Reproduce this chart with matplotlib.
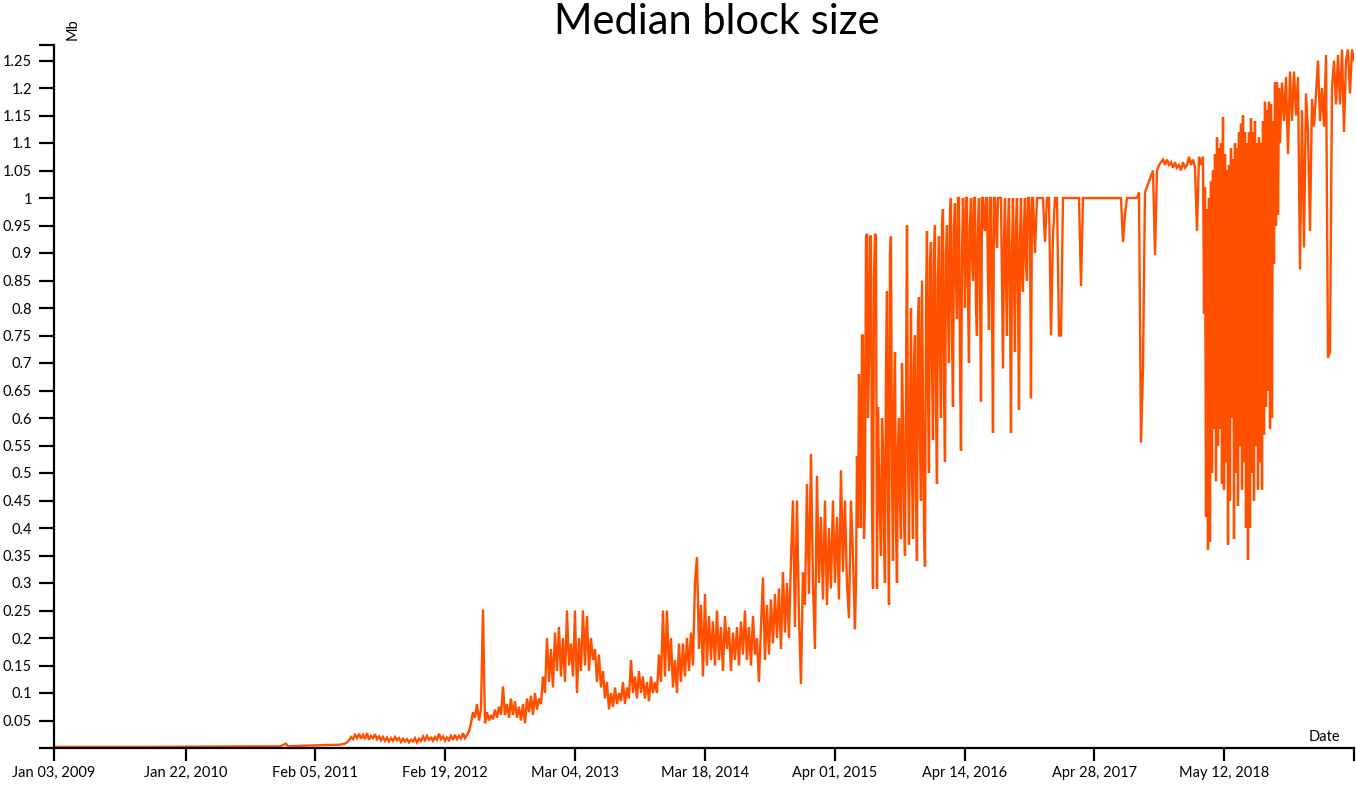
import numpy as np
import pandas as pd
import matplotlib
matplotlib.use("Agg")
import matplotlib.pyplot as plt

plt.rcParams['font.family'] = ['Lato', 'DejaVu Sans']

start = pd.Timestamp('2009-01-03')

# early period, nearly empty blocks (day offsets from start)
flat_days = [0, 134, 280, 572, 660, 677, 683, 718, 777, 835, 849]
flat_mb = [0.002, 0.002, 0.002, 0.003, 0.003, 0.008, 0.003, 0.004, 0.005, 0.006, 0.008]

# May 2011 - Jun 2015, sampled about every 5.8 days
b1_start, b1_step = 855.3, 5.838
b1_mb = [
    0.010, 0.014, 0.020, 0.016, 0.024, 0.018, 0.026, 0.017, 0.024, 0.016,
    0.027, 0.015, 0.022, 0.018, 0.025, 0.016, 0.021, 0.014, 0.020, 0.013,
    0.019, 0.012, 0.018, 0.013, 0.020, 0.014, 0.018, 0.011, 0.017, 0.012,
    0.016, 0.010, 0.015, 0.012, 0.018, 0.010, 0.017, 0.013, 0.021, 0.014,
    0.022, 0.015, 0.019, 0.013, 0.020, 0.015, 0.026, 0.016, 0.021, 0.013,
    0.019, 0.014, 0.022, 0.015, 0.024, 0.016, 0.022, 0.017, 0.027, 0.018,
    0.024, 0.030, 0.045, 0.065, 0.055, 0.080, 0.050, 0.070, 0.252, 0.045,
    0.065, 0.050, 0.060, 0.052, 0.070, 0.055, 0.075, 0.060, 0.112, 0.060,
    0.080, 0.055, 0.090, 0.060, 0.085, 0.055, 0.075, 0.050, 0.080, 0.045,
    0.090, 0.065, 0.095, 0.060, 0.100, 0.070, 0.090, 0.080, 0.130, 0.100,
    0.200, 0.120, 0.180, 0.110, 0.210, 0.140, 0.220, 0.130, 0.200, 0.120,
    0.250, 0.150, 0.190, 0.130, 0.250, 0.100, 0.200, 0.140, 0.250, 0.150,
    0.240, 0.140, 0.200, 0.160, 0.180, 0.120, 0.170, 0.110, 0.140, 0.090,
    0.120, 0.070, 0.100, 0.075, 0.110, 0.080, 0.100, 0.085, 0.120, 0.080,
    0.110, 0.090, 0.160, 0.100, 0.130, 0.090, 0.140, 0.100, 0.130, 0.090,
    0.120, 0.085, 0.130, 0.100, 0.120, 0.100, 0.170, 0.120, 0.250, 0.130,
    0.250, 0.140, 0.200, 0.110, 0.160, 0.100, 0.190, 0.120, 0.190, 0.130,
    0.200, 0.140, 0.210, 0.150, 0.300, 0.347, 0.180, 0.260, 0.130, 0.280,
    0.150, 0.240, 0.160, 0.230, 0.150, 0.250, 0.160, 0.220, 0.140, 0.240,
    0.180, 0.220, 0.140, 0.210, 0.160, 0.220, 0.150, 0.230, 0.170, 0.250,
    0.160, 0.220, 0.150, 0.240, 0.170, 0.200, 0.120, 0.220, 0.310, 0.160,
    0.260, 0.170, 0.270, 0.190, 0.280, 0.200, 0.290, 0.180, 0.320, 0.210,
    0.300, 0.200, 0.340, 0.450, 0.220, 0.450, 0.240, 0.116, 0.320, 0.260,
    0.480, 0.280, 0.535, 0.300, 0.180, 0.495, 0.300, 0.420, 0.270, 0.450,
    0.260, 0.400, 0.290, 0.450, 0.300, 0.420, 0.270, 0.505, 0.320, 0.450,
    0.300, 0.236, 0.450, 0.350, 0.216,
]

# Jun 2015 - Nov 2016, the noisy climb to 1 Mb, about every 2.9 days
b2_start, b2_step = 2341.2, 2.919
b2_mb = [
    0.30, 0.53, 0.40, 0.68, 0.55, 0.40, 0.75, 0.75, 0.38, 0.45,
    0.93, 0.935, 0.60, 0.70, 0.93, 0.93, 0.45, 0.29, 0.85, 0.935,
    0.93, 0.29, 0.62, 0.50, 0.42, 0.35, 0.60, 0.55, 0.38, 0.30,
    0.70, 0.83, 0.45, 0.26, 0.90, 0.93, 0.50, 0.34, 0.62, 0.72,
    0.40, 0.30, 0.55, 0.60, 0.45, 0.38, 0.70, 0.60, 0.42, 0.35,
    0.65, 0.95, 0.55, 0.37, 0.60, 0.80, 0.50, 0.38, 0.70, 0.75,
    0.45, 0.34, 0.78, 0.82, 0.55, 0.45, 0.85, 0.62, 0.40, 0.33,
    0.80, 0.94, 0.65, 0.50, 0.88, 0.92, 0.70, 0.56, 0.90, 0.95,
    0.62, 0.48, 0.85, 0.93, 0.72, 0.60, 0.95, 0.98, 0.65, 0.52,
    0.90, 0.95, 0.80, 0.70, 0.98, 1.00, 0.75, 0.62, 0.95, 0.99,
    0.85, 0.78, 1.00, 1.00, 0.70, 0.54, 0.90, 1.00, 0.92, 0.80,
    1.00, 1.00, 0.82, 0.70, 0.95, 1.00, 0.90, 0.85, 1.00, 1.00,
    0.80, 0.75, 0.95, 1.00, 0.85, 0.63, 1.00, 1.00, 0.95, 0.94,
    1.00, 1.00, 0.85, 0.76, 1.00, 1.00, 0.80, 0.573, 1.00, 1.00,
    0.95, 0.91, 1.00, 1.00, 1.00, 1.00, 0.85, 0.69, 0.92, 1.00,
    0.85, 0.75, 0.95, 1.00, 0.83, 0.573, 0.90, 1.00, 0.85, 0.72,
    0.95, 1.00, 0.84, 0.615, 0.92, 1.00, 0.86, 0.83, 0.95, 1.00,
    0.88, 0.85, 1.00, 1.00, 0.95, 0.636, 1.00,
]

# Nov 2016 - Mar 2018, plateau at 1 Mb then the step up
b3_start, b3_step = 2857.9, 5.838
b3_mb = [
    1.000, 0.900, 1.000, 1.000, 1.000, 1.000, 0.920, 1.000, 1.000, 0.750,
    0.930, 1.000, 1.000, 0.750, 0.750, 1.000, 1.000, 1.000, 1.000, 1.000,
    1.000, 1.000, 1.000, 1.000, 0.840, 1.000, 1.000, 1.000, 1.000, 1.000,
    1.000, 1.000, 1.000, 1.000, 1.000, 1.000, 1.000, 1.000, 1.000, 1.000,
    1.000, 1.000, 1.000, 1.000, 1.000, 0.920, 0.970, 1.000, 1.000, 1.000,
    1.000, 1.000, 1.000, 1.010, 0.555, 0.690, 1.010, 1.020, 1.030, 1.040,
    1.050, 0.896, 1.050, 1.060, 1.065, 1.070, 1.060, 1.070, 1.060, 1.065,
    1.055, 1.065, 1.055, 1.060, 1.050, 1.065, 1.055, 1.060, 1.075, 1.060,
    1.070, 1.055, 0.940, 1.075, 1.060, 1.075,
]

# Mar 2018 - Oct 2018, the most jagged stretch, about every 2.9 days
c_start, c_step = 3357.1, 2.919
c_mb = [
    0.79, 1.02, 0.42, 0.98, 0.36, 1.00, 0.375, 1.03, 0.50, 1.05,
    0.58, 1.08, 0.485, 1.11, 0.55, 1.09, 0.58, 1.10, 0.48, 1.147,
    0.47, 1.08, 0.52, 1.05, 0.37, 1.06, 0.45, 1.09, 0.60, 1.07,
    0.38, 1.10, 0.50, 1.09, 0.44, 1.12, 0.55, 1.135, 0.47, 1.15,
    0.52, 1.12, 0.40, 1.10, 0.342, 1.12, 0.40, 1.145, 0.50, 1.12,
    0.45, 1.14, 0.55, 1.10, 0.47, 1.11, 0.52, 1.10, 0.47, 1.14,
    0.57, 1.175, 0.62, 1.16, 0.65, 1.175, 0.58, 1.17, 0.60, 1.14,
    0.88, 1.21, 0.95, 1.21, 0.97, 1.20, 1.10,
]

# Oct 2018 - May 2019
d_start, d_step = 3584.8, 5.838
d_mb = [
    1.21, 1.14, 1.22, 1.08, 1.23, 1.14, 1.23, 1.15, 1.22, 0.87,
    1.16, 0.91, 1.19, 1.12, 0.94, 1.18, 1.13, 1.19, 1.25, 1.14,
    1.20, 1.13, 1.26, 0.71, 0.72, 1.20, 1.25, 1.17, 1.26, 1.17,
    1.27, 1.12, 1.25, 1.27, 1.19, 1.27, 1.25,
]

tick_dates = ['Jan 03, 2009', 'Jan 22, 2010', 'Feb 05, 2011', 'Feb 19, 2012',
              'Mar 04, 2013', 'Mar 18, 2014', 'Apr 01, 2015', 'Apr 14, 2016',
              'Apr 28, 2017', 'May 12, 2018']
end_date = 'May 26, 2019'

days = np.concatenate([
    flat_days,
    b1_start + b1_step * np.arange(len(b1_mb)),
    b2_start + b2_step * np.arange(len(b2_mb)),
    b3_start + b3_step * np.arange(len(b3_mb)),
    c_start + c_step * np.arange(len(c_mb)),
    d_start + d_step * np.arange(len(d_mb)),
])
mb = np.concatenate([flat_mb, b1_mb, b2_mb, b3_mb, c_mb, d_mb])

W, H = 1356, 785
fig = plt.figure(figsize=(W / 100, H / 100), dpi=100)
ax = fig.add_axes([54 / W, 37 / H, 1300 / W, 703 / H])

ax.plot(days, mb, color='#ff5000', lw=1.7, solid_joinstyle='miter')

x_end = (pd.Timestamp(end_date) - start).days
ymax = 703 / 550
ax.set_xlim(0, x_end)
ax.set_ylim(0, ymax)

xt = [(pd.Timestamp(d) - start).days for d in tick_dates] + [x_end]
ax.set_xticks(xt)
ax.set_xticklabels(tick_dates + [''])

yv = [round(0.05 * i, 2) for i in range(1, 26)]
ax.set_yticks([0] + yv + [ymax])
ax.set_yticklabels([''] + [f'{v:g}' for v in yv] + [''])

for s in ['top', 'right']:
    ax.spines[s].set_visible(False)
for s in ['left', 'bottom']:
    ax.spines[s].set_linewidth(1.6)
    ax.spines[s].set_color('black')
ax.tick_params(axis='y', length=11, width=1.6, pad=5, labelsize=10.5)
ax.tick_params(axis='x', length=9, width=1.6, pad=4, labelsize=10.5)

fig.text(717 / W, 1 - 34 / H, 'Median block size', ha='center', va='baseline',
         fontsize=30)
fig.text(73 / W, 1 - 29 / H, 'Mb', rotation=90, ha='center', va='center',
         fontsize=10.5)
fig.text(1340 / W, 1 - 741 / H, 'Date', ha='right', va='baseline', fontsize=10.5)

fig.savefig('out.png', dpi=100)
